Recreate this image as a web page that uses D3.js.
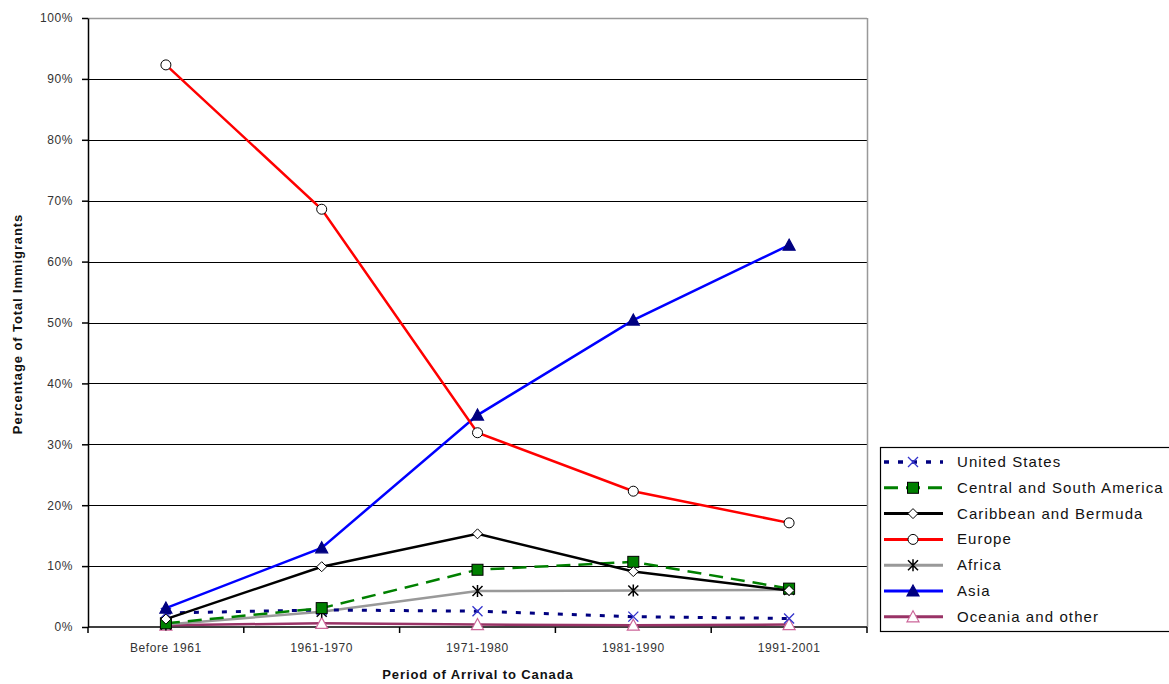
<!DOCTYPE html>
<html><head><meta charset="utf-8">
<script src="https://cdn.jsdelivr.net/npm/d3@7"></script>
<style>body{margin:0;background:#fff}svg{display:block;font-family:Arial,"Liberation Sans",sans-serif}</style>
</head><body><svg id="c" width="1169" height="684"></svg>
<script>
const categories = ["Before 1961","1961-1970","1971-1980","1981-1990","1991-2001"];
const yTicks = [0,10,20,30,40,50,60,70,80,90,100];
const seriesNames = ["United States","Central and South America","Caribbean and Bermuda","Europe","Africa","Asia","Oceania and other"];
const unitedStates = [2.3,2.8,2.6,1.7,1.4];
const centralSouthAmerica = [0.6,3.1,9.4,10.7,6.3];
const caribbeanBermuda = [1.3,9.9,15.3,9.1,6.0];
const europe = [92.3,68.6,31.9,22.3,17.1];
const africa = [0.4,2.5,5.9,6.0,6.1];
const asia = [3.1,13.0,34.8,50.4,62.7];
const oceania = [0.3,0.6,0.4,0.3,0.4];

const styles = [
 {color:"#000080",width:3,dash:"5,9",marker:"x",mfill:"none",mstroke:"#3333cc"},
 {color:"#008000",width:2.5,dash:"14,8",marker:"square",mfill:"#008000",mstroke:"#000"},
 {color:"#000000",width:2.5,dash:null,marker:"diamond",mfill:"#fff",mstroke:"#000"},
 {color:"#ff0000",width:2.5,dash:null,marker:"circle",mfill:"#fff",mstroke:"#000"},
 {color:"#999999",width:2.5,dash:null,marker:"star",mfill:"none",mstroke:"#000"},
 {color:"#0000ff",width:2.5,dash:null,marker:"triangle",mfill:"#000080",mstroke:"#000080"},
 {color:"#993366",width:2.5,dash:null,marker:"triangle",mfill:"#fff",mstroke:"#cc6699"}
];
const data = [unitedStates,centralSouthAmerica,caribbeanBermuda,europe,africa,asia,oceania];

const svg = d3.select("#c");
const L=88,R=867,T=18,B=627;
const x = d3.scalePoint().domain(categories).range([L,R]).padding(0.5);
const y = d3.scaleLinear().domain([0,100]).range([B,T]);

// gridlines
svg.append("g").selectAll("line").data(yTicks.filter(d=>d>0)).join("line")
 .attr("x1",L).attr("x2",R).attr("y1",d=>Math.round(y(d))+0.5).attr("y2",d=>Math.round(y(d))+0.5)
 .attr("stroke",d=>d===100?"#999":"#000").attr("stroke-width",d=>d===100?1.5:1.2);
// right border
svg.append("line").attr("x1",R+0.5).attr("x2",R+0.5).attr("y1",T).attr("y2",B).attr("stroke","#999").attr("stroke-width",1.5);

// y axis
const ya = svg.append("g").attr("transform",`translate(${L},0)`)
 .call(d3.axisLeft(y).tickValues(yTicks).tickFormat(d=>d+"%").tickSize(6).tickSizeOuter(0));
ya.select(".domain").attr("stroke","#000").attr("stroke-width",1.5);
ya.selectAll(".tick line").attr("stroke","#000").attr("stroke-width",1.5);
ya.selectAll("text").attr("font-size",12).attr("letter-spacing",0.6).attr("fill","#333").attr("x",-15).attr("font-family","Arial, 'Liberation Sans', sans-serif");

// x axis
const xa = svg.append("g").attr("transform",`translate(0,${B})`);
xa.append("line").attr("x1",L).attr("x2",R).attr("stroke","#000").attr("stroke-width",1.5);
const bw = x.step();
const bounds = d3.range(categories.length+1).map(i=>L+i*bw);
xa.selectAll("line.t").data(bounds).join("line").attr("class","t")
 .attr("x1",d=>d).attr("x2",d=>d).attr("y1",0).attr("y2",6).attr("stroke","#000").attr("stroke-width",1.5);
xa.selectAll("text").data(categories).join("text")
 .attr("x",d=>x(d)).attr("y",25).attr("text-anchor","middle").attr("font-size",12).attr("letter-spacing",0.6).attr("fill","#333").text(d=>d);

// axis titles
svg.append("text").attr("transform","translate(22,324) rotate(-90)").attr("text-anchor","middle")
 .attr("font-size",13).attr("letter-spacing",0.9).attr("font-weight","bold").attr("fill","#111").text("Percentage of Total Immigrants");
svg.append("text").attr("x",478).attr("y",679).attr("text-anchor","middle")
 .attr("font-size",13).attr("letter-spacing",0.9).attr("font-weight","bold").attr("fill","#111").text("Period of Arrival to Canada");

function drawMarker(g,type,cx,cy,st){
 if(type==="circle") g.append("circle").attr("cx",cx).attr("cy",cy).attr("r",5).attr("fill",st.mfill).attr("stroke",st.mstroke).attr("stroke-width",1);
 else if(type==="square") g.append("rect").attr("x",cx-5.5).attr("y",cy-5.5).attr("width",11).attr("height",11).attr("fill",st.mfill).attr("stroke",st.mstroke).attr("stroke-width",1);
 else if(type==="diamond") g.append("path").attr("d",`M${cx},${cy-5}L${cx+5},${cy}L${cx},${cy+5}L${cx-5},${cy}Z`).attr("fill",st.mfill).attr("stroke",st.mstroke).attr("stroke-width",1);
 else if(type==="triangle") g.append("path").attr("d",`M${cx},${cy-6}L${cx+6},${cy+5}L${cx-6},${cy+5}Z`).attr("fill",st.mfill).attr("stroke",st.mstroke).attr("stroke-width",1.2);
 else if(type==="x") g.append("path").attr("d",`M${cx-5},${cy-5}L${cx+5},${cy+5}M${cx+5},${cy-5}L${cx-5},${cy+5}`).attr("stroke",st.mstroke).attr("stroke-width",1.3);
 else if(type==="star") g.append("path").attr("d",`M${cx-5},${cy-5}L${cx+5},${cy+5}M${cx+5},${cy-5}L${cx-5},${cy+5}M${cx},${cy-6}L${cx},${cy+6}`).attr("stroke",st.mstroke).attr("stroke-width",1.5);
}

const line = d3.line().x((d,i)=>x(categories[i])).y(d=>y(d));
const order=[6,4,0,1,2,5,3];
order.forEach(k=>{
 const st=styles[k];
 const g=svg.append("g");
 g.append("path").datum(data[k]).attr("d",line).attr("fill","none").attr("stroke",st.color)
  .attr("stroke-width",st.width).attr("stroke-dasharray",st.dash);
 data[k].forEach((v,i)=>drawMarker(g,st.marker,x(categories[i]),y(v),st));
});

// legend
const lg=svg.append("g");
lg.append("rect").attr("x",880.5).attr("y",447.5).attr("width",300).attr("height",184).attr("fill","#fff").attr("stroke","#000").attr("stroke-width",1.2);
seriesNames.forEach((n,i)=>{
 const st=styles[i]; const cy=462+i*25.8;
 lg.append("line").attr("x1",884).attr("x2",943).attr("y1",cy).attr("y2",cy).attr("stroke",st.color).attr("stroke-width",st.width+0.5).attr("stroke-dasharray",st.dash);
 drawMarker(lg,st.marker,913,cy,st);
 lg.append("text").attr("x",957).attr("y",cy+5).attr("font-size",15).attr("letter-spacing",1.1).attr("fill","#111").text(n);
});
</script></body></html>
